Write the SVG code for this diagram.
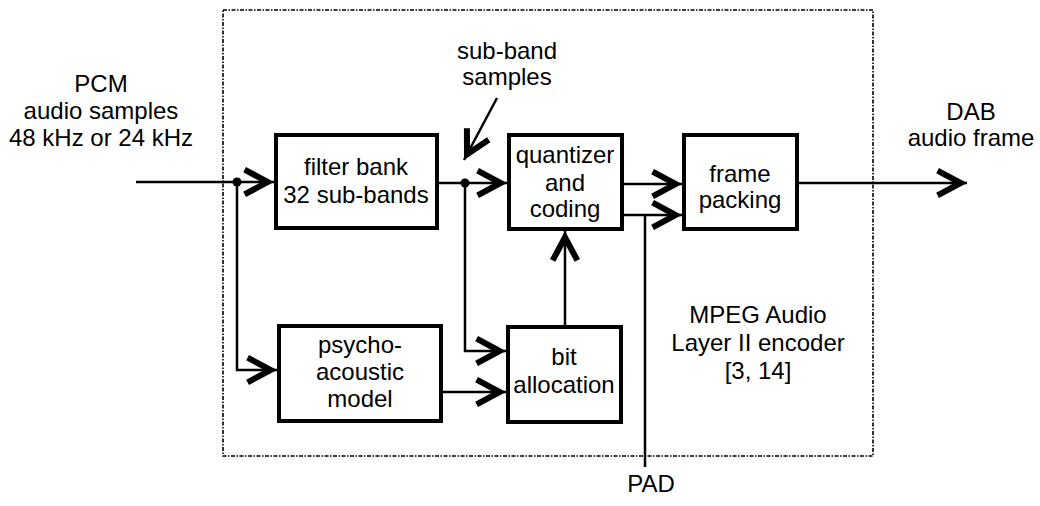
<svg xmlns="http://www.w3.org/2000/svg" width="1040" height="506" viewBox="0 0 1040 506">
<style>
text{font-family:"Liberation Sans",Arial,sans-serif;font-size:24px;fill:#000;text-anchor:middle}
.box{fill:#fff;stroke:#000;stroke-width:4}
.ln{fill:none;stroke:#000;stroke-width:2.5}
.frame{fill:none;stroke:#000;stroke-width:1.6;stroke-dasharray:4 1.5 1.5 1.5}
</style>
<defs>
<marker id="ah" markerUnits="userSpaceOnUse" viewBox="-32 -17 34 34" markerWidth="34" markerHeight="34" refX="0" refY="0" orient="auto">
<polygon points="0,0 -28,-15 -30.8,-9.7 -12.8,0 -30.8,9.7 -28,15" fill="#000"/>
</marker>
</defs>
<rect class="frame" x="223" y="10" width="650" height="446"/>
<g id="connectors">
<path class="ln" d="M136,182 H274" marker-end="url(#ah)"/>
<path class="ln" d="M237,182 V370 H277" marker-end="url(#ah)"/>
<path class="ln" d="M437,183 H507" marker-end="url(#ah)"/>
<path class="ln" d="M465,183 V351 H506" marker-end="url(#ah)"/>
<path class="ln" d="M441,392 H506" marker-end="url(#ah)"/>
<path class="ln" d="M565,327 V231" marker-end="url(#ah)"/>
<path class="ln" d="M622,184 H682" marker-end="url(#ah)"/>
<path class="ln" d="M622,215 H682" marker-end="url(#ah)"/>
<path class="ln" d="M645,467 V215"/>
<path class="ln" d="M797,183 H967" marker-end="url(#ah)"/>
<path class="ln" d="M497,98 L464,160" marker-end="url(#ah)"/>
<circle cx="237" cy="182" r="4.5" fill="#000"/>
<circle cx="465" cy="183" r="4.5" fill="#000"/>
</g>
<g id="filterbank">
<rect class="box" x="276" y="135" width="161" height="93"/>
<text x="356" y="175">filter bank</text>
<text x="356" y="203">32 sub-bands</text>
</g>
<g id="quantizer">
<rect class="box" x="509" y="135" width="113" height="94"/>
<text x="565" y="163">quantizer</text>
<text x="565" y="191">and</text>
<text x="565" y="217">coding</text>
</g>
<g id="framepacking">
<rect class="box" x="684" y="135" width="113" height="94"/>
<text x="740" y="182">frame</text>
<text x="740" y="208">packing</text>
</g>
<g id="psycho">
<rect class="box" x="279" y="326" width="162" height="95"/>
<text x="360" y="353">psycho-</text>
<text x="360" y="380">acoustic</text>
<text x="360" y="407">model</text>
</g>
<g id="bitalloc">
<rect class="box" x="508" y="327" width="113" height="95"/>
<text x="564" y="365">bit</text>
<text x="564" y="393">allocation</text>
</g>
<g id="labels">
<text x="101" y="92">PCM</text>
<text x="101" y="119">audio samples</text>
<text x="101" y="146">48 kHz or 24 kHz</text>
<text x="971" y="120">DAB</text>
<text x="971" y="146">audio frame</text>
<text x="507" y="59">sub-band</text>
<text x="507" y="85">samples</text>
<text x="758" y="323">MPEG Audio</text>
<text x="758" y="351">Layer II encoder</text>
<text x="758" y="379">[3, 14]</text>
<text x="651" y="492">PAD</text>
</g>
</svg>
